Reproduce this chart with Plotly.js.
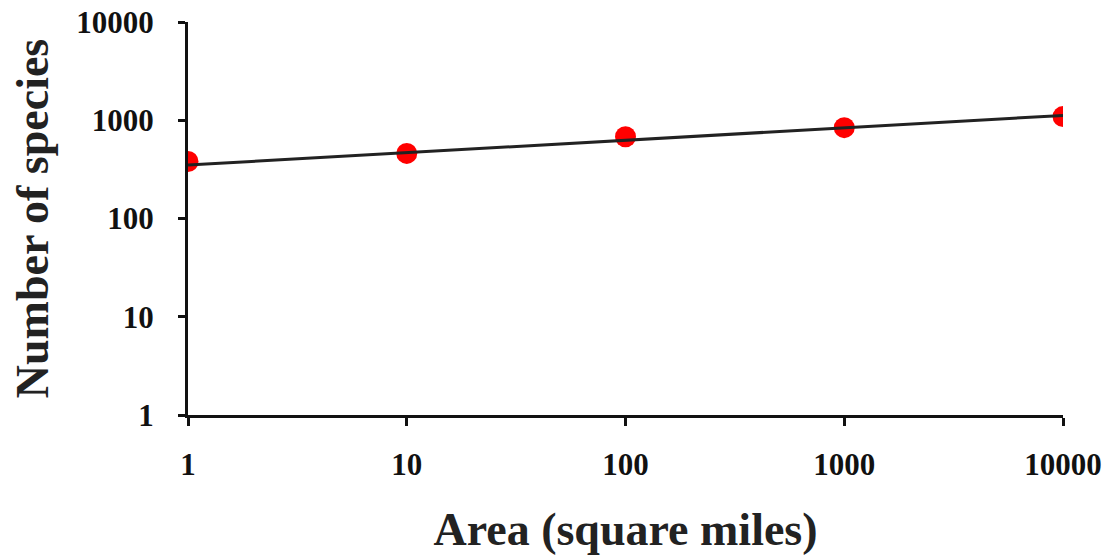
<!DOCTYPE html>
<html>
<head>
<meta charset="utf-8">
<script src="https://cdn.plot.ly/plotly-3.0.1.min.js"></script>
<style>html,body{margin:0;padding:0;background:#fff;}#chart{width:1108px;height:556px;}</style>
</head>
<body>
<div id="chart"></div>
<script>
// Data
const areas = [1, 10, 100, 1000, 10000];
const species = [380, 460, 680, 840, 1090];
const trendX = [1, 10000];
const trendY = [350, 1120];
const tickVals = [1, 10, 100, 1000, 10000];
const tickText = ['1', '10', '100', '1000', '10000'];

const fontFam = '"Liberation Serif", "Times New Roman", serif';

const traces = [
  {
    x: areas, y: species, type: 'scatter', mode: 'markers',
    marker: {color: '#ff0000', size: 21},
    showlegend: false, hoverinfo: 'x+y'
  },
  {
    x: trendX, y: trendY, type: 'scatter', mode: 'lines',
    line: {color: '#222222', width: 3},
    showlegend: false
  }
];

const axisCommon = {
  type: 'log',
  tickvals: tickVals,
  ticktext: tickText,
  showgrid: false,
  zeroline: false,
  showline: true,
  linecolor: '#111111',
  linewidth: 3,
  ticks: 'outside',
  tickcolor: '#111111',
  tickwidth: 3,
  tickfont: {family: fontFam, size: 31, color: '#111111', weight: 'bold'},
  automargin: false
};

const layout = {
  width: 1108, height: 556,
  margin: {l: 188, r: 45, t: 22, b: 141},
  paper_bgcolor: '#ffffff',
  plot_bgcolor: '#ffffff',
  showlegend: false,
  xaxis: Object.assign({}, axisCommon, {
    range: [0, 4],
    ticklen: 8,
    ticklabelstandoff: 12,
    title: {text: 'Area (square miles)', font: {family: fontFam, size: 46, color: '#222222', weight: 'bold'}, standoff: 32}
  }),
  yaxis: Object.assign({}, axisCommon, {
    range: [0, 4],
    ticklen: 7,
    ticklabelstandoff: 18,
    title: {text: 'Number of species', font: {family: fontFam, size: 46, color: '#222222', weight: 'bold'}, standoff: 14}
  })
};

Plotly.newPlot('chart', traces, layout, {displayModeBar: false, staticPlot: true});
</script>
</body>
</html>
